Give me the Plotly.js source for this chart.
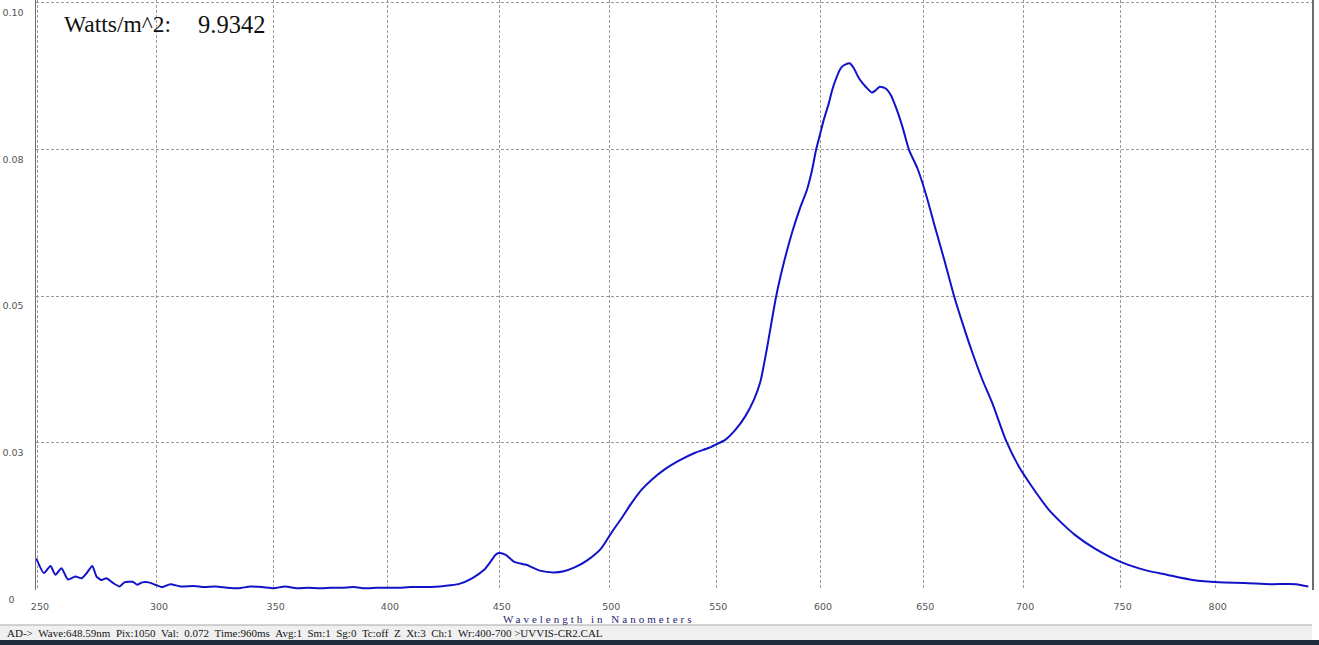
<!DOCTYPE html>
<html>
<head>
<meta charset="utf-8">
<script src="https://cdn.plot.ly/plotly-3.0.1.min.js"></script>
<style>
html, body { margin: 0; padding: 0; background: #ffffff; }
#chart { width: 1319px; height: 645px; }
.annotation[data-index="0"] text { letter-spacing: 3px; }
</style>
</head>
<body>
<div id="chart"></div>
<script>
// ---- data ----
const wavelengthNm = [
  249.3, 252.5, 255.2, 257.3, 259.8, 262.5, 265.6, 268.3, 270.4, 272.7,
  274.5, 276.6, 278.6, 281.4, 284.2, 286.2, 289.7, 291.7, 293.8, 296.5,
  299.3, 302.2, 305.7, 310.0, 315.8, 320, 325, 330, 335, 340,
  345, 350, 355, 360, 365, 370, 375, 380, 385, 390,
  395, 400, 405, 410, 417.9, 425, 431.4, 437.5, 442.8, 445.8,
  448.1, 449.6, 452.7, 456.5, 462.0, 468.2, 474.4, 479.1, 483.8, 490.0,
  496.3, 500.9, 505.6, 510.3, 515.0, 519.7, 525.9, 532.2, 540.0, 546.3,
  551.0, 554.2, 559.0, 563.7, 567.8, 570.9, 574.1, 578.4, 582.2, 586.1,
  589.9, 593.2, 595.7, 597.6, 599.7, 601.3, 603.8, 605.4, 607.0, 609.5,
  611.3, 613.9, 616.0, 618.5, 621.7, 624.7, 626.6, 628.6, 631.5, 634.0,
  636.4, 639.7, 643.0, 647.1, 651.2, 656.2, 660.4, 665.4, 669.5, 674.5,
  679.5, 684.5, 691.2, 697.9, 704.5, 713.0, 719.7, 726.4, 736.5, 750.0,
  763.8, 774.1, 787.8, 801.6, 815.5, 829.4, 843.2, 850.0
];
const irradiance = [
  0.0053, 0.0028, 0.0040, 0.0025, 0.0036, 0.0017, 0.0022, 0.0019, 0.0028, 0.0040,
  0.0022, 0.0016, 0.0019, 0.0011, 0.0005, 0.0012, 0.0013, 0.0008, 0.0012, 0.0012,
  0.0008, 0.0004, 0.0009, 0.0005, 0.0006, 0.0004, 0.0005, 0.0003, 0.0002, 0.0005,
  0.0004, 0.0002, 0.0005, 0.0002, 0.0003, 0.0002, 0.0003, 0.0003, 0.0004, 0.0002,
  0.0003, 0.0003, 0.0003, 0.0004, 0.0004, 0.0006, 0.0009, 0.0019, 0.0033, 0.0047,
  0.0059, 0.0062, 0.0059, 0.0047, 0.0042, 0.0032, 0.0029, 0.0031, 0.0037, 0.0050,
  0.0070, 0.0096, 0.0121, 0.0147, 0.0170, 0.0187, 0.0205, 0.0219, 0.0233, 0.0241,
  0.0249, 0.0255, 0.0272, 0.0295, 0.0323, 0.0354, 0.0412, 0.0499, 0.0558, 0.0609,
  0.0650, 0.0681, 0.0715, 0.0749, 0.0778, 0.0800, 0.0829, 0.0851, 0.0868, 0.0888,
  0.0894, 0.0897, 0.0888, 0.0871, 0.0857, 0.0847, 0.0851, 0.0857, 0.0854, 0.0843,
  0.0823, 0.0789, 0.0749, 0.0718, 0.0675, 0.0613, 0.0562, 0.0499, 0.0454, 0.0403,
  0.0357, 0.0317, 0.0255, 0.0209, 0.0175, 0.0136, 0.0113, 0.0093, 0.0070, 0.0047,
  0.0032, 0.0025, 0.0016, 0.0012, 0.0011, 0.0009, 0.0009, 0.0005
];
const xTickWavelengths = [250, 300, 350, 400, 450, 500, 550, 600, 650, 700, 750, 800];
const yTickValues = [0, 0.025, 0.05, 0.075, 0.1];
const yTickLabels = ['0\u00a0\u00a0\u00a0', '0.03', '0.05', '0.08', '0.10'];
const xTitleText = 'Wavelength in Nanometers';
const totalLabel = 'Watts/m^2:';
const totalValue = '9.9342';
const statusFields = ['AD->', 'Wave:648.59nm', 'Pix:1050', 'Val:\u00a0 0.072', 'Time:960ms',
  'Avg:1', 'Sm:1', 'Sg:0', 'Tc:off', 'Z', 'Xt:3', 'Ch:1', 'Wr:400-700 >UVVIS-CR2.CAL'];
const wlMin = 249.2, wlMax = 852;

// ---- the display's wavelength scale is not linear (spectrometer dispersion) ----
const dispersion = [-593.7, 2.6458, -0.00048];
function toColumn(w) { return dispersion[0] + dispersion[1] * w + dispersion[2] * w * w; }

const gridStyle = { showgrid: true, gridcolor: '#9a9a9a', gridwidth: 1, griddash: '3px,2px', zeroline: false };

const trace = {
  type: 'scatter', mode: 'lines',
  x: wavelengthNm.map(toColumn), y: irradiance,
  line: { color: '#1212c8', width: 2, shape: 'spline', smoothing: 0.6 },
  hoverinfo: 'skip'
};

const W = 1319, H = 645, ML = 36, MR = 7, MT = 0, MB = 55;
const PW = W - ML - MR, PH = H - MT - MB;
const px = v => (v - ML) / PW;           // page pixel -> paper x
const py = v => (H - MB - v) / PH;        // page pixel -> paper y

const layout = {
  width: W, height: H, autosize: false,
  margin: { l: ML, r: MR, t: MT, b: MB, pad: 0 },
  paper_bgcolor: '#ffffff', plot_bgcolor: '#ffffff',
  showlegend: false,
  xaxis: Object.assign({}, gridStyle, {
    range: [toColumn(wlMin), toColumn(wlMax)],
    tickmode: 'array',
    tickvals: xTickWavelengths.map(toColumn),
    ticktext: xTickWavelengths.map(String),
    ticks: '', showline: false,
    tickfont: { family: 'DejaVu Sans', size: 9.5, color: '#555555' },
    ticklabelshift: 2, ticklabelstandoff: 9
  }),
  yaxis: Object.assign({}, gridStyle, {
    range: [-0.0001, 0.10048],
    tickmode: 'array', tickvals: yTickValues, ticktext: yTickLabels,
    ticks: '', showline: true, linecolor: '#6e6e6e', linewidth: 1.5, mirror: true,
    tickfont: { family: 'DejaVu Sans', size: 9.5, color: '#555555' },
    ticklabelshift: 10, ticklabelstandoff: 9, ticklabeloverflow: 'allow'
  }),
  annotations: [
    { text: xTitleText, xref: 'paper', yref: 'paper', x: px(598), y: py(619),
      xanchor: 'center', yanchor: 'middle', showarrow: false,
      font: { family: 'Liberation Serif', size: 11, color: '#25256e' } },
    { text: totalLabel, xref: 'paper', yref: 'paper', x: px(62), y: py(24),
      xanchor: 'left', yanchor: 'middle', showarrow: false,
      font: { family: 'Liberation Serif', size: 23.5, color: '#111111' } },
    { text: totalValue, xref: 'paper', yref: 'paper', x: px(196), y: py(24),
      xanchor: 'left', yanchor: 'middle', showarrow: false,
      font: { family: 'Liberation Serif', size: 24.5, color: '#111111' } },
    { text: statusFields.join('\u00a0\u00a0'), xref: 'paper', yref: 'paper', x: px(5), y: py(633),
      xanchor: 'left', yanchor: 'middle', showarrow: false,
      font: { family: 'Liberation Serif', size: 11, color: '#151515' } }
  ],
  shapes: [
    { type: 'rect', xref: 'paper', yref: 'paper', x0: px(0), x1: px(1312), y0: py(640), y1: py(625),
      fillcolor: '#f0f0f0', line: { width: 0 }, layer: 'below' },
    { type: 'line', xref: 'paper', yref: 'paper', x0: px(0), x1: px(1312), y0: py(625), y1: py(625),
      line: { color: '#a8a8a8', width: 1 } },
    { type: 'rect', xref: 'paper', yref: 'paper', x0: px(0), x1: px(W), y0: py(645), y1: py(640),
      fillcolor: '#1e2b38', line: { width: 0 } }
  ]
};

Plotly.newPlot('chart', [trace], layout, { staticPlot: true, displayModeBar: false });
</script>
</body>
</html>
